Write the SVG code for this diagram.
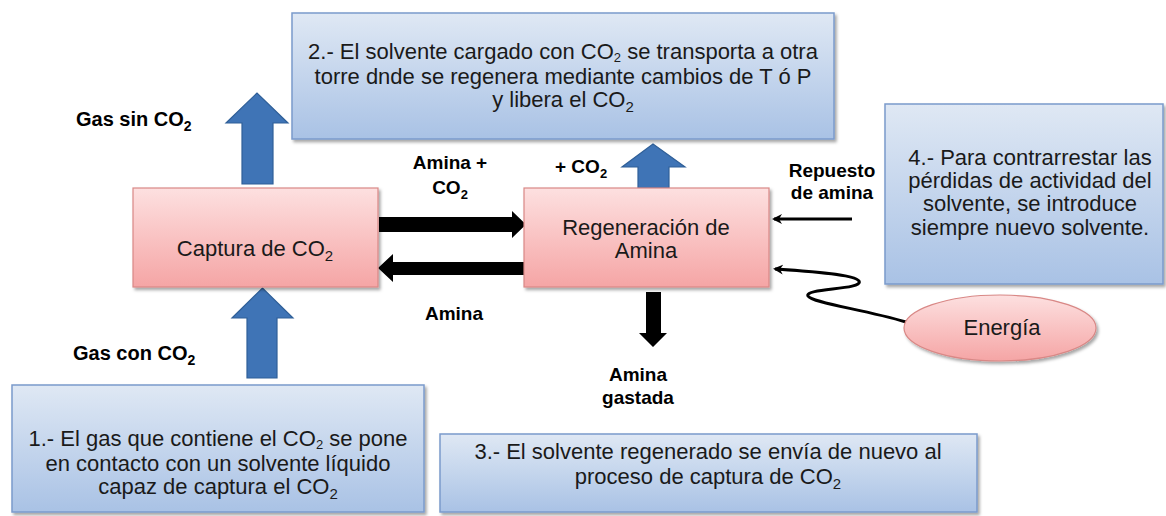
<svg xmlns="http://www.w3.org/2000/svg" width="1166" height="516" viewBox="0 0 1166 516">
<defs>
<linearGradient id="gBlue" x1="0" y1="0" x2="0" y2="1"><stop offset="0" stop-color="#dfe8f4"/><stop offset="1" stop-color="#a9c2e5"/></linearGradient>
<linearGradient id="gPink" x1="0" y1="0" x2="0" y2="1"><stop offset="0" stop-color="#fde0e0"/><stop offset="1" stop-color="#f5a5a5"/></linearGradient>
<filter id="sh" x="-5%" y="-5%" width="110%" height="115%"><feDropShadow dx="2" dy="2.5" stdDeviation="1.5" flood-color="#000" flood-opacity="0.35"/></filter>
<marker id="ah" markerWidth="10" markerHeight="10" refX="8" refY="5" orient="auto" markerUnits="userSpaceOnUse"><path d="M0,0 L10,5 L0,10 L3,5 Z" fill="#000"/></marker>
<style>
.bb{fill:url(#gBlue);stroke:#7b9acb;stroke-width:1.5;filter:url(#sh)}
.pb{fill:url(#gPink);stroke:#d98886;stroke-width:1.2;filter:url(#sh)}
.t{font-family:"Liberation Sans",Arial,sans-serif;font-size:22px;fill:#1a1a1a;text-anchor:middle}
.l{font-family:"Liberation Sans",Arial,sans-serif;font-size:19px;font-weight:bold;fill:#000}
.lg{font-family:"Liberation Sans",Arial,sans-serif;font-size:20px;font-weight:bold;fill:#000}
.ba{fill:#3f74b6;stroke:#2f5f98;stroke-width:1.2}
.ka{fill:#000}
.thin{fill:none;stroke:#000;stroke-width:3;marker-end:url(#ah)}
</style>
</defs>

<g id="connectors">
<polygon class="ba" points="242,184 242,123 226,123 257,93 288,123 273,123 273,184"/>
<polygon class="ba" points="247,378 247,318 232,318 262.5,288 293,318 277,318 277,378"/>
<polygon class="ba" points="638,188 638,167 622,167 653,144 685,167 669,167 669,188"/>
<polygon class="ka" points="379,217 512,217 512,211 526,224.5 512,238 512,232 379,232"/>
<polygon class="ka" points="524,262 393,262 393,254 378,268 393,282 393,275 524,275"/>
<polygon class="ka" points="646,292 661,292 661,333 667,333 653,347 639,333 646,333"/>
<line class="thin" x1="852" y1="219" x2="774" y2="219"/>
<path class="thin" d="M906,322 C862,309 812,303 808,296 C804,288 864,290 859,281 C855,274 805,271 775,269"/>
</g>

<g id="box2">
<rect class="bb" x="292" y="13" width="542" height="126"/>
<text class="t" x="563" y="59">2.- El solvente cargado con CO<tspan dy="3" font-size="13">2</tspan><tspan dy="-3"> se transporta a otra</tspan></text>
<text class="t" x="563" y="84">torre dnde se regenera mediante cambios de T ó P</text>
<text class="t" x="563" y="107">y libera el CO<tspan dy="5" font-size="15">2</tspan></text>
</g>

<g id="box4">
<rect class="bb" x="885" y="104" width="278" height="180"/>
<text class="t" x="1030" y="165">4.- Para contrarrestar las</text>
<text class="t" x="1030" y="188">pérdidas de actividad del</text>
<text class="t" x="1030" y="211">solvente, se introduce</text>
<text class="t" x="1030" y="235">siempre nuevo solvente.</text>
</g>

<g id="box1">
<rect class="bb" x="12" y="385" width="412" height="127"/>
<text class="t" x="218" y="446">1.- El gas que contiene el CO<tspan dy="3" font-size="13">2</tspan><tspan dy="-3"> se pone</tspan></text>
<text class="t" x="218" y="471">en contacto con un solvente líquido</text>
<text class="t" x="218" y="494">capaz de captura el CO<tspan dy="5" font-size="15">2</tspan></text>
</g>

<g id="box3">
<rect class="bb" x="440" y="434" width="537" height="78"/>
<text class="t" x="708" y="459">3.- El solvente regenerado se envía de nuevo al</text>
<text class="t" x="708" y="484">proceso de captura de CO<tspan dy="5" font-size="15">2</tspan></text>
</g>

<g id="captura">
<rect class="pb" x="133" y="188" width="245" height="99"/>
<text class="t" x="255" y="256">Captura de CO<tspan dy="5" font-size="15">2</tspan></text>
</g>

<g id="regeneracion">
<rect class="pb" x="524" y="188" width="245" height="99"/>
<text class="t" x="646" y="235">Regeneración de</text>
<text class="t" x="646" y="258">Amina</text>
</g>

<g id="energia">
<ellipse class="pb" cx="1000" cy="328" rx="96" ry="33"/>
<text class="t" x="1002" y="335">Energía</text>
</g>

<g id="labels">
<text class="lg" x="76" y="126">Gas sin CO<tspan dy="5" font-size="14">2</tspan></text>
<text class="lg" x="73" y="360">Gas con CO<tspan dy="5" font-size="14">2</tspan></text>
<text class="l" x="450" y="169" text-anchor="middle">Amina +</text>
<text class="l" x="450" y="194" text-anchor="middle">CO<tspan dy="5" font-size="13">2</tspan></text>
<text class="l" x="555" y="173">+ CO<tspan dy="5" font-size="13">2</tspan></text>
<text class="l" x="832" y="177" text-anchor="middle">Repuesto</text>
<text class="l" x="832" y="199" text-anchor="middle">de amina</text>
<text class="l" x="454" y="320" text-anchor="middle">Amina</text>
<text class="l" x="638" y="381" text-anchor="middle">Amina</text>
<text class="l" x="638" y="404" text-anchor="middle">gastada</text>
</g>
</svg>
